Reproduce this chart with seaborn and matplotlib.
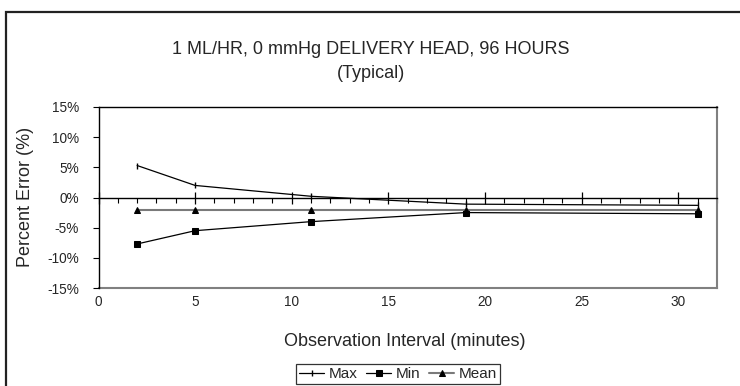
import matplotlib
matplotlib.use("Agg")
import matplotlib.pyplot as plt
import seaborn as sns
import pandas as pd
from matplotlib.patches import Rectangle
from matplotlib.ticker import MultipleLocator, FuncFormatter

# ---- data ----
intervals = [2, 5, 11, 19, 31]
max_err = [5.3, 2.0, 0.2, -1.1, -1.3]
min_err = [-7.7, -5.5, -4.0, -2.5, -2.7]
mean_err = [-2.0, -2.0, -2.0, -2.0, -2.0]
series_names = ["Max", "Min", "Mean"]
x_ticks = [0, 5, 10, 15, 20, 25, 30]
y_ticks = [-15, -10, -5, 0, 5, 10, 15]
title_lines = ["1 ML/HR, 0 mmHg DELIVERY HEAD, 96 HOURS", "(Typical)"]
xlabel = "Observation Interval (minutes)"
ylabel = "Percent Error (%)"

sns.set_style("white")
plt.rcParams["font.family"] = ["Liberation Sans", "DejaVu Sans"]

W, H = 740, 386
fig = plt.figure(figsize=(W / 100, H / 100), dpi=100)
ax = fig.add_axes([98.5 / W, 1 - 288 / H, (717 - 98.5) / W, (288 - 107) / H])

df = pd.DataFrame({"interval": intervals, "Max": max_err, "Min": min_err, "Mean": mean_err})

sns.lineplot(data=df, x="interval", y="Max", ax=ax, color="black", lw=0.9,
             marker="|", markersize=5, markeredgewidth=1.0, markeredgecolor="black",
             label=series_names[0])
sns.lineplot(data=df, x="interval", y="Min", ax=ax, color="black", lw=0.9,
             marker="s", markersize=4, markerfacecolor="black", markeredgecolor="black",
             label=series_names[1])
sns.lineplot(data=df, x="interval", y="Mean", ax=ax, color="#7a7a7a", lw=1.5,
             marker="^", markersize=4, markerfacecolor="black", markeredgecolor="black",
             label=series_names[2])

ax.set_xlim(0, 32)
ax.set_ylim(-15, 15)
ax.set_xlabel("")
ax.set_ylabel("")

# y axis
ax.set_yticks(y_ticks)
ax.yaxis.set_major_formatter(FuncFormatter(lambda v, p: f"{int(round(v))}%"))
ax.tick_params(axis="y", which="major", direction="out", length=4, width=0.8,
               color="black", left=True, labelsize=9.8, pad=10)

# x axis line through 0 with ticks, no labels
ax.spines["bottom"].set_position(("data", 0))
ax.spines["bottom"].set_color("black")
ax.spines["bottom"].set_linewidth(1.0)
ax.set_xticks(x_ticks)
ax.xaxis.set_minor_locator(MultipleLocator(1))
ax.tick_params(axis="x", which="major", direction="inout", length=9, width=0.9,
               bottom=True, top=False, labelbottom=False, color="black")
ax.tick_params(axis="x", which="minor", direction="out", length=3.5, width=0.8,
               bottom=True, top=False, color="black")

for s in ["left", "top"]:
    ax.spines[s].set_color("black")
    ax.spines[s].set_linewidth(1.0)
ax.spines["right"].set_color("#808080")
ax.spines["right"].set_linewidth(1.5)

# bottom border with tick labels
sec = ax.secondary_xaxis("bottom")
sec.set_xticks(x_ticks)
sec.tick_params(length=0, labelsize=9.8, pad=5)
sec.spines["bottom"].set_color("#808080")
sec.spines["bottom"].set_linewidth(1.5)

# labels and title
fig.text(371 / W, 1 - 50 / H, title_lines[0], ha="center", va="center", fontsize=13)
fig.text(371 / W, 1 - 73 / H, title_lines[1], ha="center", va="center", fontsize=13)
fig.text(405 / W, 1 - 341 / H, xlabel, ha="center", va="center", fontsize=13)
fig.text(25 / W, 1 - 197 / H, ylabel, ha="center", va="center", rotation=90, fontsize=13)

# legend
handles, labels = ax.get_legend_handles_labels()
ax.get_legend().remove()
leg = fig.legend(handles, labels, loc="center", bbox_to_anchor=(398 / W, 1 - 374 / H),
                 ncol=3, frameon=True, fancybox=False, fontsize=11, handlelength=1.6,
                 handletextpad=0.3, columnspacing=0.6, borderpad=0.2, borderaxespad=0)
leg.get_frame().set_edgecolor("black")
leg.get_frame().set_linewidth(0.9)

# outer chart frame (extends beyond right and bottom edges)
fig.add_artist(Rectangle((5.5 / W, -0.1), 1.0, 1.1 - 12.5 / H, transform=fig.transFigure,
                         fill=False, edgecolor="#222222", linewidth=1.6))

fig.savefig("out.png", dpi=100)
